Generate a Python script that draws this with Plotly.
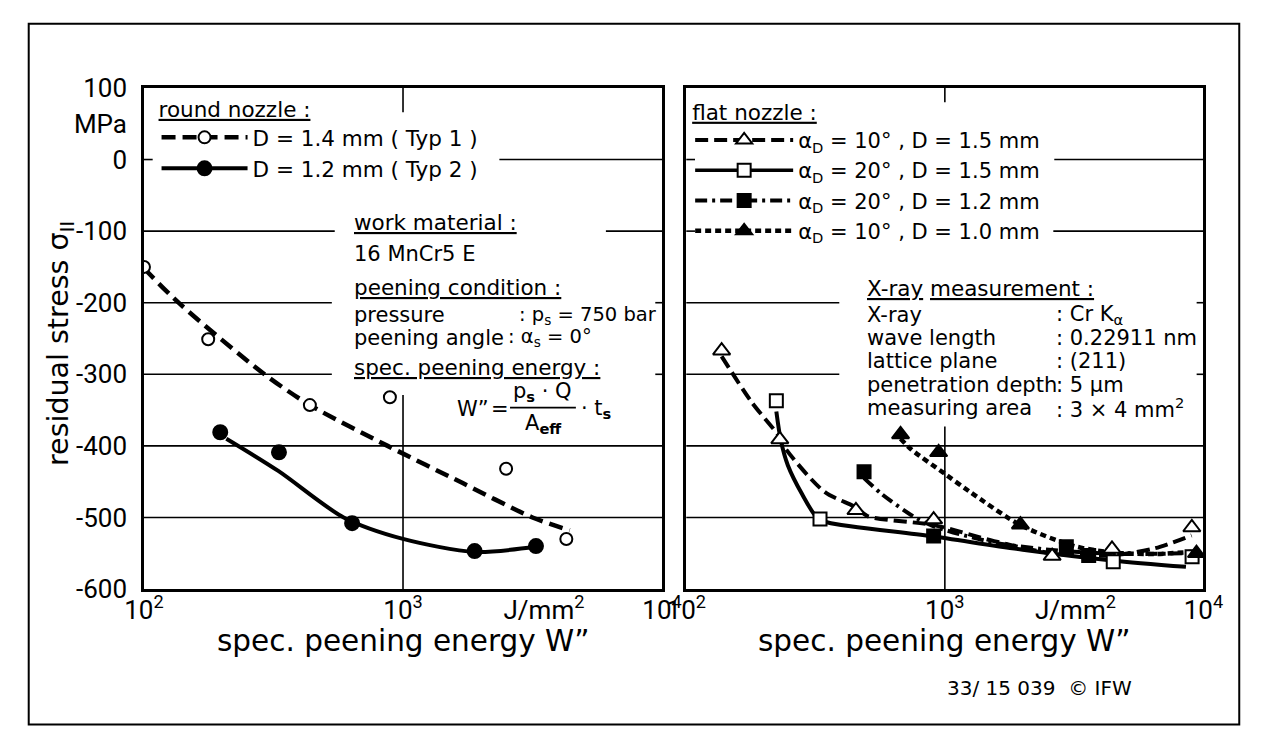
import plotly.graph_objects as go
from plotly.subplots import make_subplots

W, H = 1267, 749


def px(x):
    return x / W


def py(y):
    return 1 - y / H


FONT = "DejaVu Sans"
NUMFONT = "Roboto"

# ---------------- data ----------------
# round nozzle, left panel
typ1_x = [100, 177, 437, 890, 2500, 4270]
typ1_y = [-150, -251, -343, -332, -432, -530]
typ1_fit_x = [100, 136, 292, 437, 872, 1700, 3160, 4400]
typ1_fit_y = [-152, -200, -300, -343, -400, -452, -500, -518]

typ2_x = [197, 332, 636, 1890, 3260]
typ2_y = [-381, -409, -508, -547, -540]
typ2_fit_x = [208, 330, 590, 1000, 1890, 3260]
typ2_fit_y = [-390, -435, -500, -530, -548, -541]

# flat nozzle, right panel
a10d15_x = [137, 230, 453, 905, 2600, 4430, 9020]
a10d15_y = [-267, -391, -490, -503, -554, -544, -514]
a10d15_fit_x = [137, 179, 230, 240, 342, 453, 502, 916, 1550, 2600, 4400, 6500, 9000]
a10d15_fit_y = [-275, -339, -388, -402, -464, -486, -498, -511, -533, -550, -553, -543, -525]

a20d15_x = [223, 329, 4480, 9040]
a20d15_y = [-337, -502, -562, -555]
a20d15_fit_x = [223, 232, 247, 281, 320, 353, 878, 2000, 4430, 8560]
a20d15_fit_y = [-352, -392, -427, -468, -500, -507, -526, -545, -560, -569]

a20d12_x = [487, 905, 2950, 3600]
a20d12_y = [-436, -526, -541, -553]
a20d12_fit_x = [487, 573, 767, 901, 1550, 2900, 5000, 8500]
a20d12_fit_y = [-445, -468, -500, -512, -535, -547, -551, -550]

a10d10_x = [674, 946, 1960, 9400]
a10d10_y = [-384, -409, -510, -550]
a10d10_fit_x = [674, 742, 1000, 1248, 1970, 3170, 4460, 6440, 9000]
a10d10_fit_y = [-390, -405, -439, -464, -511, -540, -549, -551, -548]

y_ticks = [100, 50, 0, -100, -200, -300, -400, -500, -600]
y_ticktext = ["100", "MPa", "0", "-100", "-200", "-300", "-400", "-500", "-600"]
x_ticks_left = [100, 1000, 3500, 10000]
x_ticks_right = [100, 1000, 3200, 10000]
x_ticktext = ["10<sup>2</sup>", "10<sup>3</sup>", "J/mm<sup>2</sup>", "10<sup>4</sup>"]

round_names = ["D = 1.4 mm ( Typ 1 )", "D = 1.2 mm ( Typ 2 )"]
flat_names = [
    "α<sub>D</sub> = 10° , D = 1.5 mm",
    "α<sub>D</sub> = 20° , D = 1.5 mm",
    "α<sub>D</sub> = 20° , D = 1.2 mm",
    "α<sub>D</sub> = 10° , D = 1.0 mm",
]

# ---------------- figure ----------------
fig = make_subplots(rows=1, cols=2)
BL = "black"


def curve(x, y, dash, width, xa, ya):
    fig.add_trace(go.Scatter(x=x, y=y, mode="lines",
                             line=dict(color=BL, width=width, dash=dash, shape="spline", smoothing=0.8),
                             showlegend=False, hoverinfo="skip", xaxis=xa, yaxis=ya))


def pts(x, y, symbol, fill, size, xa, ya):
    fig.add_trace(go.Scatter(x=x, y=y, mode="markers",
                             marker=dict(symbol=symbol, color=fill, size=size, line=dict(color=BL, width=2)),
                             showlegend=False, xaxis=xa, yaxis=ya))


def leg(name, dash, width, symbol, fill, size, legend, xa, ya):
    fig.add_trace(go.Scatter(x=[None], y=[None], mode="lines+markers", name=name,
                             line=dict(color=BL, width=width, dash=dash),
                             marker=dict(symbol=symbol, color=fill, size=size, line=dict(color=BL, width=2)),
                             legend=legend, xaxis=xa, yaxis=ya))


D1 = "14px,7px"
DASH_LONG = "13px,6px"
DASH_DOT = "12px,5px,3px,5px"
DASH_SHORT = "6px,4px"

# left panel
curve(typ1_fit_x, typ1_fit_y, D1, 4.5, "x", "y")
curve(typ2_fit_x, typ2_fit_y, "solid", 4, "x", "y")
pts(typ1_x, typ1_y, "circle", "white", 12, "x", "y")
pts(typ2_x, typ2_y, "circle", BL, 14, "x", "y")
leg(round_names[0], D1, 4.5, "circle", "white", 12, "legend", "x", "y")
leg(round_names[1], "solid", 4, "circle", BL, 14, "legend", "x", "y")

# right panel
curve(a10d15_fit_x, a10d15_fit_y, DASH_LONG, 4, "x2", "y2")
curve(a20d15_fit_x, a20d15_fit_y, "solid", 4, "x2", "y2")
curve(a20d12_fit_x, a20d12_fit_y, DASH_DOT, 4, "x2", "y2")
curve(a10d10_fit_x, a10d10_fit_y, DASH_SHORT, 4.5, "x2", "y2")
pts(a10d15_x, a10d15_y, "triangle-up", "white", 15, "x2", "y2")
pts(a20d15_x, a20d15_y, "square", "white", 13, "x2", "y2")
pts(a20d12_x, a20d12_y, "square", BL, 13, "x2", "y2")
pts(a10d10_x, a10d10_y, "triangle-up", BL, 15, "x2", "y2")
leg(flat_names[0], DASH_LONG, 4, "triangle-up", "white", 14, "legend2", "x2", "y2")
leg(flat_names[1], "solid", 3.5, "square", "white", 13, "legend2", "x2", "y2")
leg(flat_names[2], DASH_DOT, 4, "square", BL, 13, "legend2", "x2", "y2")
leg(flat_names[3], DASH_SHORT, 4.5, "triangle-up", BL, 14, "legend2", "x2", "y2")

TOP, BOT = 76, 598
ydom = [py(BOT), py(TOP)]
axis_common = dict(showline=True, mirror=True, linecolor=BL, linewidth=2.5, showgrid=False, zeroline=False,
                   ticks="", tickfont=dict(family=NUMFONT, size=26, color=BL))

legend_common = dict(xanchor="left", yanchor="top", bgcolor="rgba(0,0,0,0)", tracegroupgap=0)

fig.update_layout(
    width=W, height=H, margin=dict(l=0, r=0, t=0, b=0),
    paper_bgcolor="white", plot_bgcolor="white",
    font=dict(family=FONT, color=BL),
    xaxis=dict(domain=[px(128), px(663)], type="log", range=[2, 4], tickvals=x_ticks_left, ticktext=x_ticktext,
               ticklabelstandoff=-4, **axis_common),
    xaxis2=dict(domain=[px(688), px(1222)], type="log", range=[2, 4], tickvals=x_ticks_right, ticktext=x_ticktext,
                ticklabelstandoff=-4, **axis_common),
    yaxis=dict(domain=ydom, range=[-600, 100], tickvals=y_ticks, ticktext=y_ticktext, ticklabelstandoff=9,
               **axis_common),
    yaxis2=dict(domain=ydom, range=[-600, 100], showticklabels=False, anchor="x2", **axis_common),
    legend=dict(x=px(141), y=py(77), itemwidth=86, font=dict(family=FONT, size=21.5),
                title=dict(text="<u>round nozzle :</u>", font=dict(family=FONT, size=21.5)), **legend_common),
    legend2=dict(x=px(692), y=py(80), itemwidth=98, font=dict(family=FONT, size=21),
                 title=dict(text="<u>flat nozzle :</u>", font=dict(family=FONT, size=21.5)), **legend_common),
    showlegend=True,
)

# ---------------- partial grid lines and ticks ----------------
shapes = []


def hl(yv, x0, x1, yref="y"):
    shapes.append(dict(type="line", xref="paper", yref=yref, x0=px(x0), x1=px(x1), y0=yv, y1=yv,
                       line=dict(color=BL, width=1.6), layer="below"))


# left panel
hl(0, 128, 137); hl(0, 495, 663)
hl(-100, 128, 325); hl(-100, 605, 663)
hl(-200, 128, 322); hl(-200, 656, 663)
hl(-300, 128, 322); hl(-300, 656, 663)
hl(-400, 128, 663); hl(-500, 128, 663)
# right panel
hl(0, 688, 697, "y2"); hl(0, 1068, 1222, "y2")
hl(-100, 688, 697, "y2"); hl(-100, 1067, 1222, "y2")
hl(-200, 688, 846, "y2"); hl(-200, 1215, 1222, "y2")
hl(-300, 688, 846, "y2"); hl(-300, 1215, 1222, "y2")
hl(-400, 688, 1222, "y2"); hl(-500, 688, 1222, "y2")
# vertical lines at 10^3
for xr, yr, ytop, ytick in [("x domain", "y", -329, 66), ("x2 domain", "y2", -373, 80)]:
    shapes.append(dict(type="line", xref=xr, yref=yr, x0=0.5, x1=0.5, y0=-600, y1=ytop,
                       line=dict(color=BL, width=1.6), layer="below"))
    shapes.append(dict(type="line", xref=xr, yref=yr, x0=0.5, x1=0.5, y0=100, y1=ytick,
                       line=dict(color=BL, width=1.6), layer="below"))
# outer frame
shapes.append(dict(type="rect", xref="paper", yref="paper", x0=px(9), x1=px(1259), y0=py(739), y1=py(9),
                   line=dict(color=BL, width=2)))
# fraction bar of the formula
shapes.append(dict(type="line", xref="paper", yref="paper", x0=px(506), x1=px(574), y0=py(409), y1=py(409),
                   line=dict(color=BL, width=1.6)))
fig.update_layout(shapes=shapes)

# ---------------- texts ----------------
ann = []


def txt(x, y, s, size=21, xanchor="left", family=FONT, **kw):
    ann.append(dict(x=px(x), y=py(y), xref="paper", yref="paper", text=s, showarrow=False,
                    xanchor=xanchor, yanchor="middle", font=dict(family=family, size=size, color=BL), **kw))


L = 343
txt(L, 216, "<u>work material :</u>", size=21.5)
txt(L, 249, "16 MnCr5 E")
txt(L, 284, "<u>peening condition :</u>", size=21.5)
txt(L, 313, "pressure")
txt(513, 313, ": p<sub>s</sub> = 750 bar", size=19.5)
txt(L, 336, "peening angle")
txt(502, 336, ": α<sub>s</sub> = 0°", size=19.5)
txt(L, 367, "<u>spec. peening energy :</u>", size=21.5)
txt(449, 410, "W”")
txt(496, 410, "=", xanchor="center")
txt(540, 393, "p<sub><b>s</b></sub> · Q", xanchor="center")
txt(541, 426, "A<sub><b>eff</b></sub>", xanchor="center")
txt(577, 410, "· t<sub><b>s</b></sub>")

R = 873
C = 1068
txt(R, 285, "<u>X-ray</u> <u>measurement :</u>", size=21.5)
rows = [("X-ray", ": Cr K<sub>α</sub>", 312), ("wave length", ": 0.22911 nm", 336),
        ("lattice plane", ": (211)", 360), ("penetration depth", ": 5 µm", 385),
        ("measuring area", ": 3 × 4 mm<sup>2</sup>", 409)]
for a, b, y in rows:
    txt(R, y, a)
    txt(C, y, b)

# axis titles
txt(396, 652, "spec. peening energy W”", size=29.5, xanchor="center")
txt(955, 652, "spec. peening energy W”", size=29.5, xanchor="center")
txt(42, 342, "residual stress σ<sub>II</sub>", size=28.5, xanchor="center", textangle=-90)
# footer
txt(1053, 701, "33/ 15 039  © IFW", size=20, xanchor="center")

fig.update_layout(annotations=ann)

fig.write_html("out.html")
